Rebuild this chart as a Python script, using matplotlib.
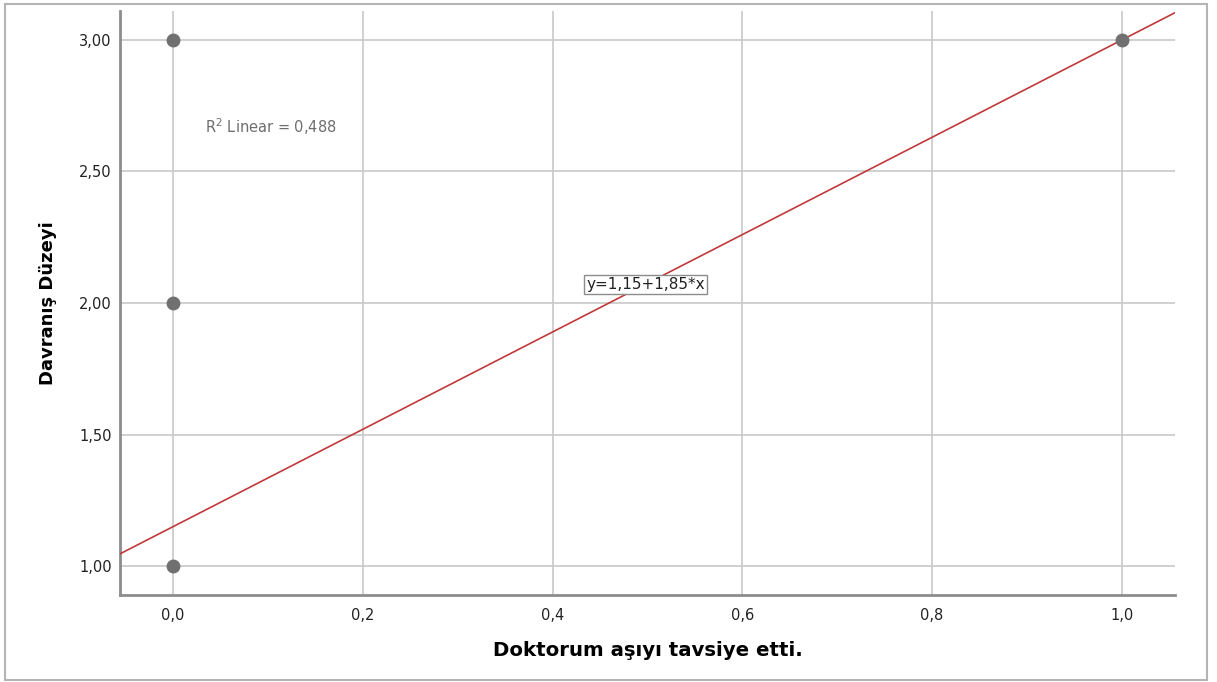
import matplotlib.pyplot as plt
from matplotlib.patches import Rectangle

plt.rcParams['font.family'] = ['DejaVu Sans']

# Observed cases
doktor_tavsiye = [0.0, 0.0, 0.0, 1.0]
davranis_duzeyi = [3.0, 2.0, 1.0, 3.0]

# Linear fit
intercept = 1.15
slope = 1.85
r2 = 0.488

x_ticks = [0.0, 0.2, 0.4, 0.6, 0.8, 1.0]
y_ticks = [1.0, 1.5, 2.0, 2.5, 3.0]

W, H = 1217, 682
fig = plt.figure(figsize=(W / 100, H / 100), dpi=100)
fig.patch.set_facecolor('white')
fig.patches.append(Rectangle((5 / W, 2 / H), 1202 / W, 676 / H, transform=fig.transFigure,
                             fill=False, edgecolor='#b4b4b4', linewidth=1.5))

ax = fig.add_axes([120 / W, 1 - 595 / H, (1175 - 120) / W, (595 - 11) / H])
xmin, xmax = -0.056, 1.056
ymin, ymax = 0.89, 3.11
ax.set_xlim(xmin, xmax)
ax.set_ylim(ymin, ymax)

ax.set_xticks(x_ticks)
ax.set_xticklabels([f"{t:.1f}".replace('.', ',') for t in x_ticks])
ax.set_yticks(y_ticks)
ax.set_yticklabels([f"{t:.2f}".replace('.', ',') for t in y_ticks])
ax.tick_params(axis='both', length=0, labelsize=10.5, colors='#222222')
ax.tick_params(axis='y', pad=6)
ax.tick_params(axis='x', pad=9)

ax.grid(True, color='#c8c8c8', linewidth=1.2)
ax.set_axisbelow(True)
for side in ['top', 'right']:
    ax.spines[side].set_visible(False)
for side in ['left', 'bottom']:
    ax.spines[side].set_color('#8c8c8c')
    ax.spines[side].set_linewidth(2)

xs = [xmin, xmax]
ax.plot(xs, [intercept + slope * v for v in xs], color='#c0393b', linewidth=1.2, zorder=3)

ax.scatter(doktor_tavsiye, davranis_duzeyi, s=100, color='#707070', zorder=4, linewidths=0)

ax.text(0.103, 2.669, f"R$^2$ Linear = {r2:.3f}".replace('.', ','), fontsize=10.5,
        color='#6e6e6e', ha='center', va='center')
ax.text(0.498, 2.07, f"y={intercept:.2f}+{slope:.2f}*x".replace('.', ','), fontsize=11,
        color='#222222', ha='center', va='center', zorder=5,
        bbox=dict(boxstyle='square,pad=0.15', facecolor='white', edgecolor='#8c8c8c', linewidth=1))

ax.set_xlabel('Doktorum aşıyı tavsiye etti.', fontsize=14.2, fontweight='bold', labelpad=13)
ax.set_ylabel('Davranış Düzeyi', fontsize=13, fontweight='bold', labelpad=16)

fig.savefig('out.png', dpi=100)
